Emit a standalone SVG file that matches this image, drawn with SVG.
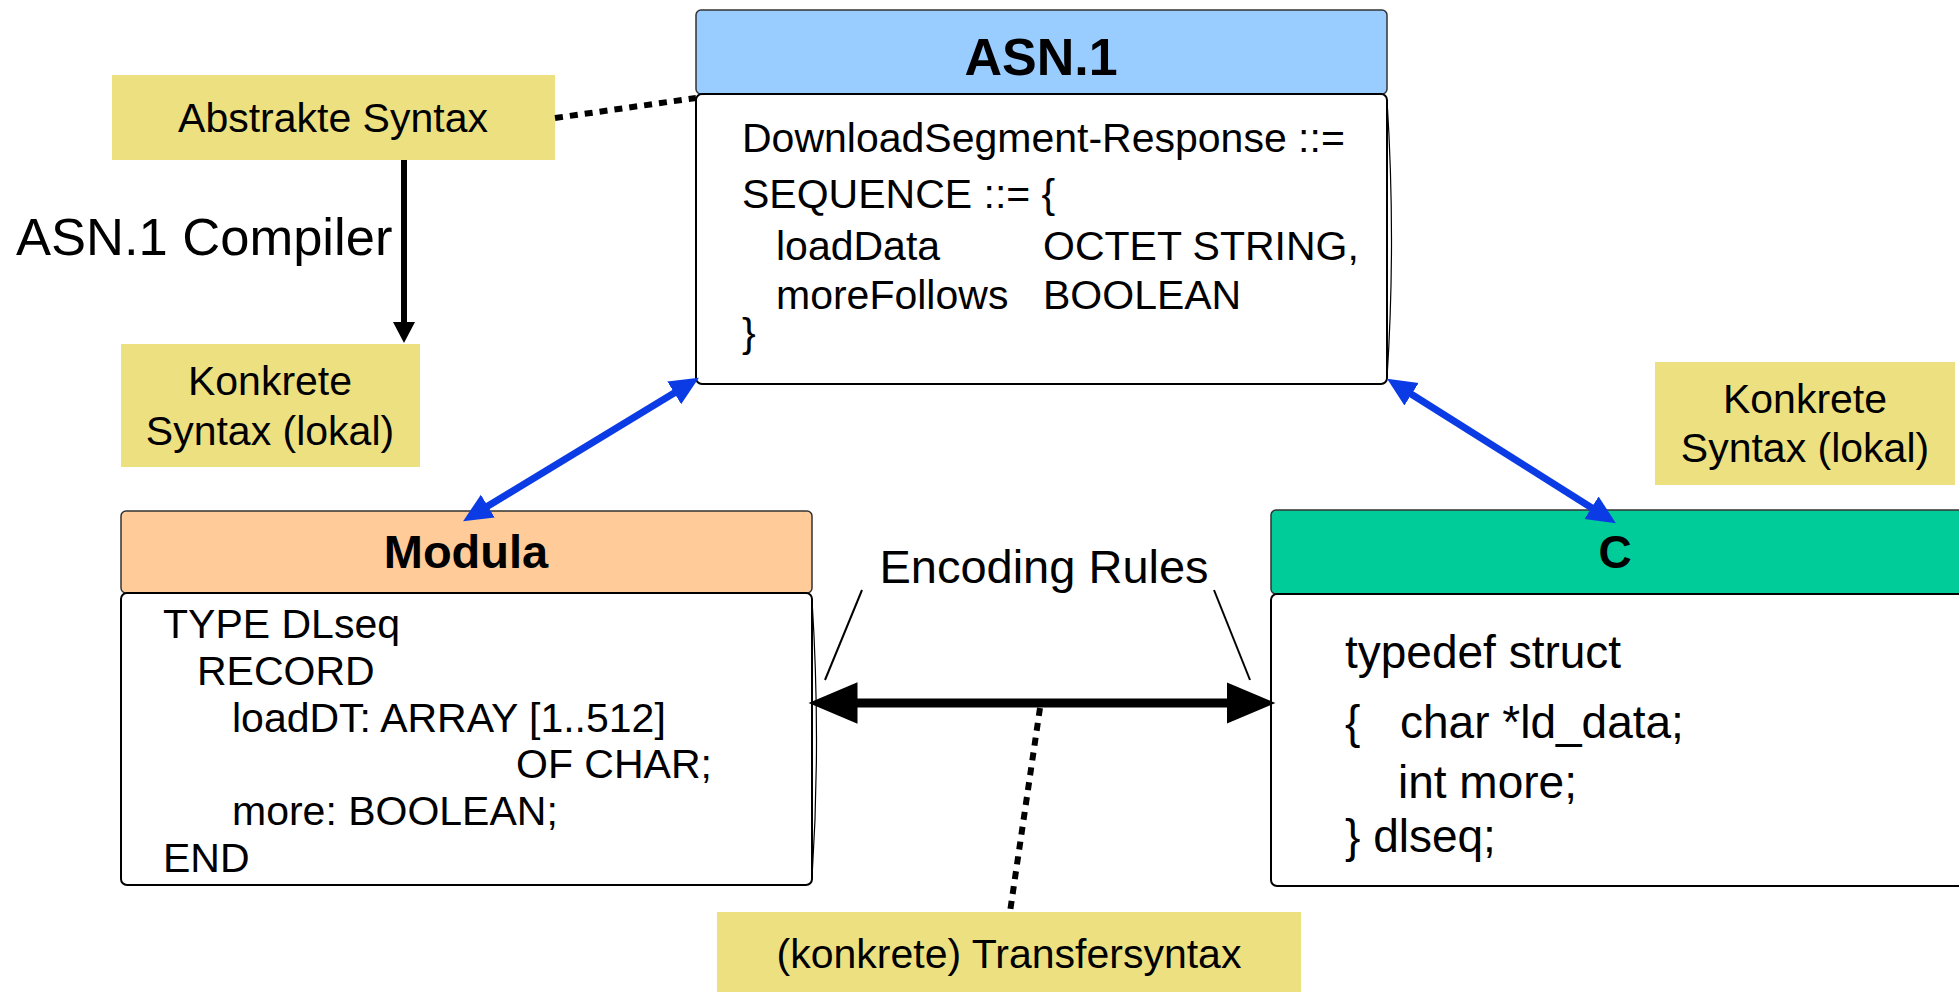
<svg xmlns="http://www.w3.org/2000/svg" width="1959" height="992" viewBox="0 0 1959 992">
<style>
text{font-family:"Liberation Sans",Arial,sans-serif;fill:#000}
.hdr{font-weight:bold;text-anchor:middle}
.code{font-size:41px}
.note{font-size:41px;text-anchor:middle}
.yb{fill:#ECE081;stroke:none}
.hb{stroke:#333;stroke-width:1.5}
.body{fill:#fff;stroke:#000;stroke-width:2}
.bulge{fill:none;stroke:#000;stroke-width:1.2}
.blue{stroke:#0B3BE5;stroke-width:7;fill:none}
.dots{stroke:#000;stroke-width:6;stroke-dasharray:8 7;fill:none}
.thin{stroke:#000;stroke-width:2;fill:none}
</style>
<defs>
<marker id="bh" markerUnits="userSpaceOnUse" markerWidth="30" markerHeight="30" viewBox="0 -13 27 26" refX="6" refY="0" orient="auto-start-reverse"><path d="M0,-12 L26,0 L0,12 z" fill="#0B3BE5"/></marker>
<marker id="kh" markerUnits="userSpaceOnUse" markerWidth="24" markerHeight="24" viewBox="0 -12 22 24" refX="8" refY="0" orient="auto"><path d="M0,-11 L21,0 L0,11 z" fill="#000"/></marker>
<marker id="kb" markerUnits="userSpaceOnUse" markerWidth="50" markerHeight="44" viewBox="0 -21 48 42" refX="12" refY="0" orient="auto-start-reverse"><path d="M0,-20 L47,0 L0,20 z" fill="#000"/></marker>
</defs>

<g id="asn1">
<rect x="696" y="10" width="691" height="84" rx="5" fill="#99CCFF" class="hb"/>
<text x="1041" y="75" class="hdr" font-size="52">ASN.1</text>
<rect x="696" y="94" width="691" height="290" rx="6" class="body"/>
<path d="M1387,100 Q1396,240 1387,378" class="bulge"/>
<text class="code" x="742" y="152">DownloadSegment-Response ::=</text>
<text class="code" x="742" y="208">SEQUENCE ::= {</text>
<text class="code" x="776" y="260">loadData</text>
<text class="code" x="1043" y="260">OCTET STRING,</text>
<text class="code" x="776" y="309">moreFollows</text>
<text class="code" x="1043" y="309">BOOLEAN</text>
<text class="code" x="742" y="347">}</text>
</g>

<g id="abstrakte">
<rect x="112" y="75" width="443" height="85" class="yb"/>
<text class="note" x="333" y="132">Abstrakte Syntax</text>
</g>

<g id="compiler-label">
<text x="16" y="255" font-size="52.5">ASN.1 Compiler</text>
</g>

<g id="konkrete-left">
<rect x="121" y="344" width="299" height="123" class="yb"/>
<text class="note" x="270" y="395">Konkrete</text>
<text class="note" x="270" y="445">Syntax (lokal)</text>
</g>

<g id="konkrete-right">
<rect x="1655" y="362" width="300" height="123" class="yb"/>
<text class="note" x="1805" y="413">Konkrete</text>
<text class="note" x="1805" y="462">Syntax (lokal)</text>
</g>

<g id="modula">
<rect x="121" y="511" width="691" height="82" rx="5" fill="#FFCC99" class="hb"/>
<text x="466" y="568" class="hdr" font-size="47">Modula</text>
<rect x="121" y="593" width="691" height="292" rx="6" class="body"/>
<path d="M812,600 Q821,740 812,878" class="bulge"/>
<text class="code" x="163" y="638">TYPE DLseq</text>
<text class="code" x="197" y="685">RECORD</text>
<text class="code" x="232" y="732">loadDT: ARRAY [1..512]</text>
<text class="code" x="516" y="778">OF CHAR;</text>
<text class="code" x="232" y="825">more: BOOLEAN;</text>
<text class="code" x="163" y="872">END</text>
</g>

<g id="c">
<rect x="1271" y="510" width="700" height="84" rx="5" fill="#00CC99" class="hb"/>
<text x="1615" y="568" class="hdr" font-size="46">C</text>
<rect x="1271" y="594" width="700" height="292" rx="6" class="body"/>
<text x="1345" y="668" font-size="46">typedef struct</text>
<text x="1345" y="738" font-size="46">{</text>
<text x="1400" y="738" font-size="46">char *ld_data;</text>
<text x="1398" y="798" font-size="46">int more;</text>
<text x="1345" y="852" font-size="46">} dlseq;</text>
</g>

<g id="encoding-label">
<text x="1044" y="583" font-size="47" text-anchor="middle">Encoding Rules</text>
</g>

<g id="transfer">
<rect x="717" y="912" width="584" height="80" class="yb"/>
<text class="note" x="1009" y="968">(konkrete) Transfersyntax</text>
</g>

<g id="connectors">
<line x1="555" y1="118" x2="696" y2="98" class="dots"/>
<line x1="404" y1="160" x2="404" y2="330" stroke="#000" stroke-width="6" marker-end="url(#kh)"/>
<line x1="679.9" y1="389.4" x2="482.1" y2="509.6" class="blue" marker-start="url(#bh)" marker-end="url(#bh)"/>
<line x1="1405.9" y1="390.7" x2="1597.1" y2="511.3" class="blue" marker-start="url(#bh)" marker-end="url(#bh)"/>
<line x1="845" y1="703" x2="1239" y2="703" stroke="#000" stroke-width="9" marker-start="url(#kb)" marker-end="url(#kb)"/>
<line x1="862" y1="590" x2="825" y2="680" class="thin"/>
<line x1="1214" y1="590" x2="1250" y2="680" class="thin"/>
<line x1="1040" y1="708" x2="1010" y2="912" class="dots"/>
</g>
</svg>
